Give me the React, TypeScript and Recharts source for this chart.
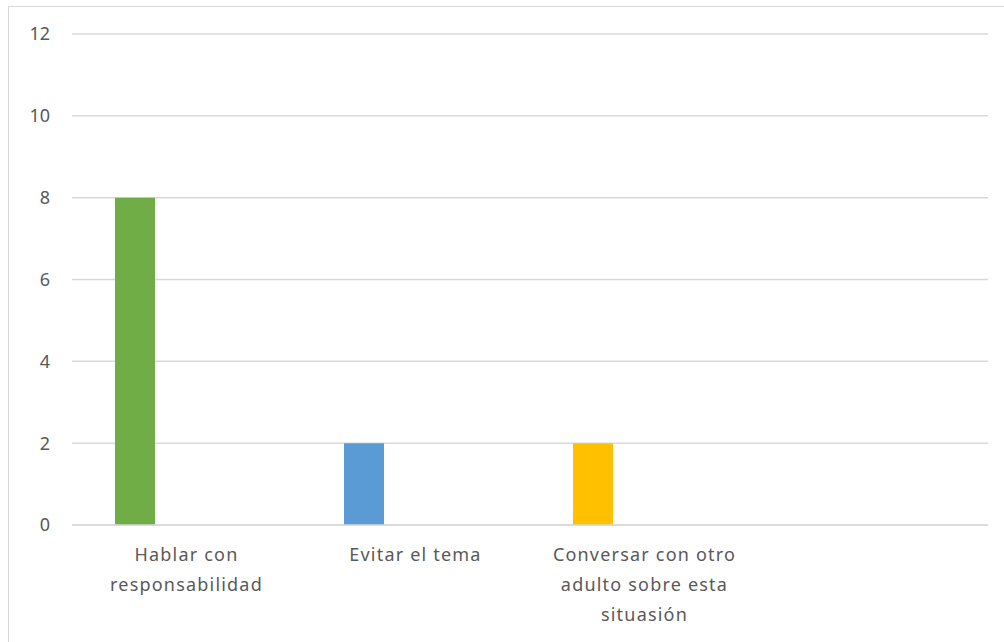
import { BarChart, Bar, XAxis, YAxis, CartesianGrid, Cell } from 'recharts'

// ── Datos ─────────────────────────────────────────────────────
const categories = [
  'Hablar con responsabilidad',
  'Evitar el tema',
  'Conversar con otro adulto sobre esta situasión',
  '',
]
const values = [8, 2, 2, null]
const barColors = ['#70AD47', '#5B9BD5', '#FFC000', '#A5A5A5']
const yTicks = [0, 2, 4, 6, 8, 10, 12]

// serie vacía: ocupa el segundo hueco del grupo, como en la hoja original
const emptySeries = [null, null, null, null]

const data = categories.map((name, i) => ({
  name,
  valor: values[i],
  vacio: emptySeries[i],
}))

const TEXT = '#595959'
const GRID = '#D9D9D9'
const FONT = "'Noto Sans', sans-serif"

// parte la etiqueta en líneas de ~18 caracteres
function wrap(label: string, max = 18) {
  const lines: string[] = []
  let cur = ''
  for (const w of label.split(' ')) {
    const next = cur ? cur + ' ' + w : w
    if (next.length > max && cur) {
      lines.push(cur)
      cur = w
    } else {
      cur = next
    }
  }
  if (cur) lines.push(cur)
  return lines
}

function CategoryTick({ x, y, payload }: { x?: number; y?: number; payload?: { value: string } }) {
  const lines = wrap(payload?.value ?? '')
  return (
    <text x={x} y={y} textAnchor="middle" fill={TEXT} fontSize={18} fontFamily={FONT} letterSpacing={1.2}>
      {lines.map((l, i) => (
        <tspan key={i} x={x} dy={i === 0 ? 28 : 30}>{l}</tspan>
      ))}
    </text>
  )
}

export default function App() {
  return (
    <div style={{ position: 'fixed', left: 0, top: 0, width: 1004, height: 642, background: '#fff' }}>
      <div style={{
        position: 'absolute', left: 8, top: 6, width: 1010, height: 660,
        border: `1px solid ${GRID}`,
      }} />
      <BarChart
        width={1004}
        height={642}
        data={data}
        margin={{ top: 34, right: 16, left: 10, bottom: 7 }}
        barSize={40}
        barGap={64}
        style={{ position: 'absolute', left: 0, top: 0 }}
      >
        <CartesianGrid horizontal vertical={false} stroke={GRID} strokeWidth={1.5} />
        <XAxis
          dataKey="name"
          axisLine={{ stroke: GRID, strokeWidth: 1.5 }}
          tickLine={false}
          interval={0}
          height={110}
          tick={<CategoryTick />}
        />
        <YAxis
          domain={[0, 12]}
          ticks={yTicks}
          axisLine={false}
          tickLine={false}
          width={62}
          tickMargin={16}
          tick={{ fill: TEXT, fontSize: 18, fontFamily: FONT }}
        />
        <Bar dataKey="valor" isAnimationActive={false}>
          {data.map((_, i) => (
            <Cell key={i} fill={barColors[i]} />
          ))}
        </Bar>
        <Bar dataKey="vacio" fill="transparent" isAnimationActive={false} />
      </BarChart>
    </div>
  )
}
